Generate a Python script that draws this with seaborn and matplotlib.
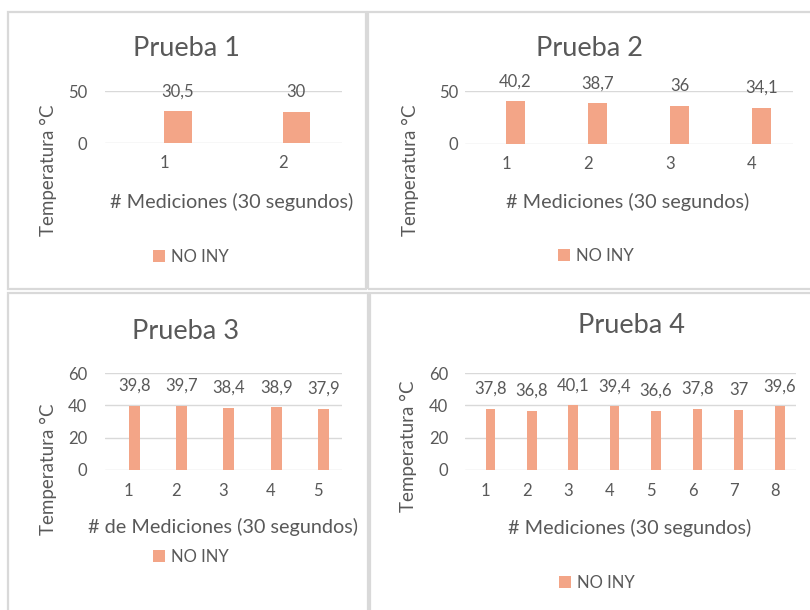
import matplotlib
matplotlib.use("Agg")
import matplotlib.pyplot as plt
from matplotlib.patches import Patch, Rectangle
import pandas as pd
import seaborn as sns

# Mediciones de temperatura por prueba (una cada 30 segundos)
mediciones_1 = [1, 2]
temperatura_1 = [30.5, 30]

mediciones_2 = [1, 2, 3, 4]
temperatura_2 = [40.2, 38.7, 36, 34.1]

mediciones_3 = [1, 2, 3, 4, 5]
temperatura_3 = [39.8, 39.7, 38.4, 38.9, 37.9]

mediciones_4 = [1, 2, 3, 4, 5, 6, 7, 8]
temperatura_4 = [37.8, 36.8, 40.1, 39.4, 36.6, 37.8, 37, 39.6]

titulos = ["Prueba 1", "Prueba 2", "Prueba 3", "Prueba 4"]
etiquetas_x = ["# Mediciones (30 segundos)", "# Mediciones (30 segundos)",
               "# de Mediciones (30 segundos)", "# Mediciones (30 segundos)"]
etiqueta_y = "Temperatura °C"
serie = "NO INY"
serie_vacia = "INY"          # primera serie del libro, sin datos
limites_y = [50, 50, 60, 60]
ticks_y = [[0, 50], [0, 50], [0, 20, 40, 60], [0, 20, 40, 60]]

COLOR_BARRA = "#F3A587"
GRIS_TEXTO = "#595959"
GRIS_LINEA = "#D9D9D9"

sns.set_theme(style="white")
plt.rcParams["font.family"] = ["Lato", "DejaVu Sans"]

W, H = 810, 610
fig = plt.figure(figsize=(W / 100, H / 100), dpi=100)
fig.patch.set_facecolor("white")


def fx(x):
    return x / W


def fy(y):
    return 1 - y / H


# marcos de cada gráfico (x0, y0, x1, y1) en píxeles
marcos = [(7.5, 12, 366, 289), (368, 12, 815, 289),
          (7.5, 293, 368, 615), (370, 293, 815, 615)]
for x0, y0, x1, y1 in marcos:
    fig.patches.append(Rectangle((fx(x0), fy(y1)), fx(x1 - x0), (y1 - y0) / H,
                                 transform=fig.transFigure, fill=False,
                                 edgecolor=GRIS_LINEA, linewidth=1.6))

# áreas de trazado (x0, y0, x1, y1) en píxeles
areas = [(105, 91, 342, 143), (465, 91, 793, 144),
         (105, 373, 342, 470), (465, 373, 796, 470)]
pad_y = [13, 5, 13, 12]
pos_titulo = [(186, 56), (590, 56), (186, 339), (632, 333)]
pos_ylabel = [(48, 170), (410, 170), (48, 469), (408, 446)]
pos_xlabel = [(232, 202), (628, 202), (223, 527), (630, 528)]
pos_leyenda = [(191, 257), (596, 256), (191, 557), (597, 583)]

datos = [(mediciones_1, temperatura_1), (mediciones_2, temperatura_2),
         (mediciones_3, temperatura_3), (mediciones_4, temperatura_4)]

for i, (med, temp) in enumerate(datos):
    x0, y0, x1, y1 = areas[i]
    ax = fig.add_axes([fx(x0), fy(y1), fx(x1 - x0), (y1 - y0) / H])
    df = pd.DataFrame({"medicion": med, "temperatura": temp, "serie": serie})
    sns.barplot(data=df, x="medicion", y="temperatura", hue="serie",
                hue_order=[serie_vacia, serie],
                palette={serie: COLOR_BARRA, serie_vacia: "#A5A5A5"},
                width=0.46, dodge=True, legend=False, ax=ax,
                errorbar=None, saturation=1, linewidth=0)
    ax.set_ylim(0, limites_y[i])
    ax.set_yticks(ticks_y[i])
    ax.grid(axis="y", color=GRIS_LINEA, linewidth=1.0)
    ax.grid(axis="x", visible=False)
    ax.set_axisbelow(True)
    for s in ax.spines.values():
        s.set_visible(False)
    ax.tick_params(axis="x", length=0, pad=9, labelsize=12, labelcolor=GRIS_TEXTO)
    ax.tick_params(axis="y", length=0, pad=pad_y[i], labelsize=12, labelcolor=GRIS_TEXTO)
    ax.set_xlabel("")
    ax.set_ylabel("")

    cont = [c for c in ax.containers if len(c) == len(temp)][-1]
    ax.bar_label(cont, labels=[f"{v:g}".replace(".", ",") for v in temp],
                 padding=8.5, fontsize=12, color=GRIS_TEXTO, clip_on=False)

    tx, ty = pos_titulo[i]
    fig.text(fx(tx), fy(ty), titulos[i], ha="center", va="baseline",
             fontsize=19.5, color=GRIS_TEXTO)
    lx, ly = pos_ylabel[i]
    fig.text(fx(lx), fy(ly), etiqueta_y, ha="center", va="center",
             rotation=90, fontsize=13.5, color=GRIS_TEXTO)
    xx, xy = pos_xlabel[i]
    fig.text(fx(xx), fy(xy), etiquetas_x[i], ha="center", va="center",
             fontsize=14.3, color=GRIS_TEXTO)
    gx, gy = pos_leyenda[i]
    ax.legend(handles=[Patch(facecolor=COLOR_BARRA, edgecolor="none")],
              labels=[serie], loc="center", bbox_to_anchor=(fx(gx), fy(gy)),
              bbox_transform=fig.transFigure, frameon=False, fontsize=12,
              labelcolor=GRIS_TEXTO, handlelength=0.7, handleheight=0.7,
              handletextpad=0.35, borderpad=0)

fig.savefig("out.png", dpi=100, facecolor="white")
